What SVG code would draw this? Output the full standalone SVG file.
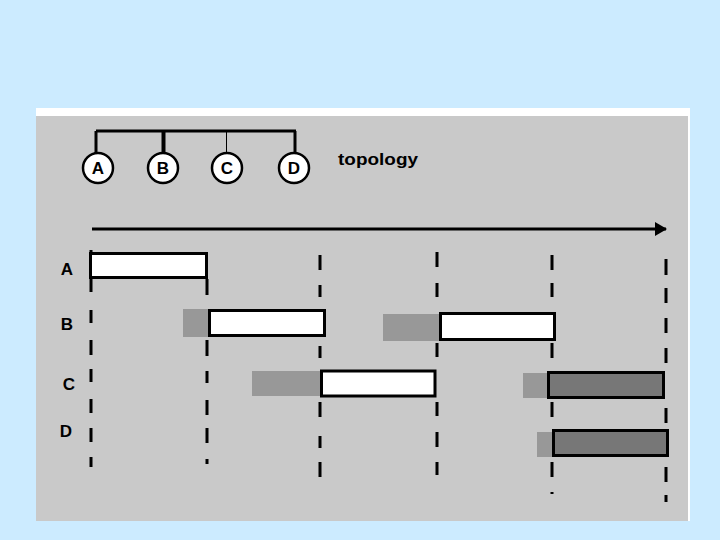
<svg xmlns="http://www.w3.org/2000/svg" width="720" height="540" viewBox="0 0 720 540">
<style>
.lbl{font-family:"Liberation Sans",Arial,sans-serif;font-weight:bold;fill:#000;}
.node circle{fill:#fff;stroke:#000;stroke-width:2.5;}
.wbar{fill:#fff;stroke:#000;stroke-width:3;}
.dbar{fill:#777;stroke:#000;stroke-width:3;}
.shade{fill:#989898;}
.dash{stroke:#000;stroke-width:3;fill:none;}
</style>
<defs>
<marker id="ah" viewBox="0 0 12 14" refX="11" refY="7" markerWidth="12" markerHeight="14" markerUnits="userSpaceOnUse" orient="auto">
<path d="M0,0 L12,7 L0,14 Z" fill="#000"/>
</marker>
</defs>
<rect x="0" y="0" width="720" height="540" fill="#CCEBFF"/>
<rect x="36" y="108" width="654" height="413" fill="#fff"/>
<rect x="36" y="116" width="652" height="405" fill="#C9C9C9"/>

<g id="connectors">
<path d="M96,131 H296" stroke="#000" stroke-width="3" fill="none"/>
<path d="M96,131 V153" stroke="#000" stroke-width="3"/>
<path d="M163.5,131 V153" stroke="#000" stroke-width="4"/>
<path d="M226.5,131 V153" stroke="#000" stroke-width="1"/>
<path d="M295,131 V153" stroke="#000" stroke-width="3"/>
<path d="M92,229 H666" stroke="#000" stroke-width="3" marker-end="url(#ah)"/>
</g>

<g id="node-A" class="node"><circle cx="98" cy="168" r="15"/><text class="lbl" x="98" y="174" font-size="17" text-anchor="middle">A</text></g>
<g id="node-B" class="node"><circle cx="163" cy="168" r="15"/><text class="lbl" x="163" y="174" font-size="17" text-anchor="middle">B</text></g>
<g id="node-C" class="node"><circle cx="227" cy="168" r="15"/><text class="lbl" x="227" y="174" font-size="17" text-anchor="middle">C</text></g>
<g id="node-D" class="node"><circle cx="294" cy="168" r="15"/><text class="lbl" x="294" y="174" font-size="17" text-anchor="middle">D</text></g>
<text class="lbl" x="338" y="165" font-size="17" textLength="80" lengthAdjust="spacingAndGlyphs">topology</text>

<g id="row-labels">
<text class="lbl" x="67" y="275" font-size="17" text-anchor="middle">A</text>
<text class="lbl" x="67" y="330" font-size="17" text-anchor="middle">B</text>
<text class="lbl" x="69" y="390" font-size="17" text-anchor="middle">C</text>
<text class="lbl" x="66" y="437" font-size="17" text-anchor="middle">D</text>
</g>

<g id="dashes">
<path class="dash" d="M91,250 V292 M91,310 V323 M91,340 V355 M91,369 V382 M91,399 V413 M91,428 V442 M91,457 V467"/>
<path class="dash" d="M207,279 V295 M207,340 V356 M207,371 V383 M207,400 V415 M207,428 V443 M207,459 V464"/>
<path class="dash" d="M320,255 V270 M320,285 V297 M320,346 V358 M320,402 V417 M320,436 V448 M320,462 V477"/>
<path class="dash" d="M437,252 V267 M437,283 V297 M437,343 V357 M437,402 V416 M437,432 V447 M437,462 V475"/>
<path class="dash" d="M552,255 V270 M552,283 V297 M552,343 V358 M552,402 V417 M552,462 V477 M552,492 V494"/>
<path class="dash" d="M666,259 V275 M666,288 V303 M666,318 V333 M666,348 V363 M666,408 V423 M666,467 V482 M666,495 V502"/>
</g>

<g id="bar-A1"><rect class="wbar" x="90.5" y="253.5" width="116" height="24"/></g>
<g id="bar-B1"><rect class="shade" x="183" y="309" width="26" height="28"/><rect class="wbar" x="209.5" y="310.5" width="115" height="25"/></g>
<g id="bar-B2"><rect class="shade" x="383" y="314" width="57" height="27"/><rect class="wbar" x="440.5" y="313.5" width="114" height="26"/></g>
<g id="bar-C1"><rect class="shade" x="252" y="371" width="69" height="25"/><rect class="wbar" x="321.5" y="371" width="113.5" height="25"/></g>
<g id="bar-C2"><rect class="shade" x="523" y="373" width="26" height="25"/><rect class="dbar" x="548.5" y="372.5" width="115" height="25"/></g>
<g id="bar-D1"><rect class="shade" x="537" y="432" width="16" height="25"/><rect class="dbar" x="553.5" y="430.5" width="114" height="25"/></g>
</svg>
